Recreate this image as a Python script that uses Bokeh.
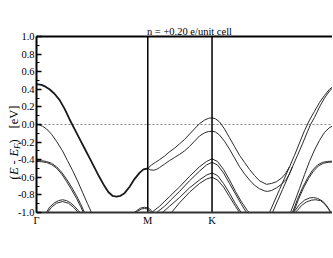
from bokeh.plotting import figure
from bokeh.models import FixedTicker, Label
from bokeh.embed import file_html
from bokeh.resources import INLINE

# ---- high-symmetry path (path length units) ----
sym_k = [0.0, 1.732, 2.732, 4.732]
sym_labels = ["Γ", "M", "K", "Γ"]

y_ticks = [-1.0, -0.8, -0.6, -0.4, -0.2, 0.0, 0.2, 0.4, 0.6, 0.8, 1.0]
y_tick_labels = ["-1.0", "-0.8", "-0.6", "-0.4", "-0.2", "0.0", "0.2", "0.4", "0.6", "0.8", "1.0"]
y_minor = [-0.9, -0.7, -0.5, -0.3, -0.1, 0.1, 0.3, 0.5, 0.7, 0.9]
fermi_level = 0.0

title_text = "n = +0.20 e/unit cell"

# ---- bands ----
bandA_GM_k = [0, 0.078, 0.140, 0.202, 0.280, 0.358, 0.436, 0.514, 0.591, 0.669, 0.747, 0.825, 0.903,
              0.981, 1.058, 1.121, 1.183, 1.245, 1.307, 1.370, 1.447, 1.525, 1.603, 1.665, 1.732]
bandA_GM_e = [0.46, 0.45, 0.43, 0.40, 0.35, 0.28, 0.18, 0.06, -0.05, -0.16, -0.27, -0.38, -0.49,
              -0.60, -0.70, -0.77, -0.81, -0.82, -0.81, -0.78, -0.71, -0.62, -0.55, -0.51, -0.50]

bandA_up_k = [1.732, 1.790, 1.852, 1.914, 1.992, 2.070, 2.148, 2.226, 2.304, 2.381, 2.459, 2.537, 2.615,
              2.677, 2.732, 2.786, 2.848, 2.926, 3.004, 3.082, 3.160, 3.237, 3.315, 3.393, 3.471, 3.580,
              3.658, 3.735, 3.813, 3.875, 3.938, 4.016, 4.093, 4.171, 4.249, 4.327, 4.405, 4.482, 4.560,
              4.638, 4.732]
bandA_up_e = [-0.50, -0.46, -0.43, -0.40, -0.36, -0.31, -0.27, -0.22, -0.17, -0.11, -0.05, 0.01, 0.05,
              0.07, 0.076, 0.065, 0.03, -0.05, -0.15, -0.25, -0.35, -0.43, -0.51, -0.58, -0.64, -0.68,
              -0.67, -0.65, -0.61, -0.56, -0.48, -0.35, -0.21, -0.07, 0.05, 0.15, 0.25, 0.33, 0.40,
              0.445, 0.46]

bandA_lo_k = [1.732, 1.774, 1.821, 1.868, 1.914, 1.992, 2.070, 2.148, 2.226, 2.304, 2.381, 2.459, 2.537,
              2.615, 2.677, 2.732, 2.786, 2.848, 2.926, 3.004, 3.082, 3.160, 3.237, 3.315, 3.393, 3.471,
              3.549, 3.595, 3.658, 3.735, 3.813, 3.891, 3.938, 3.984, 4.062, 4.140, 4.218, 4.265, 4.327,
              4.405, 4.482, 4.560, 4.638, 4.732]
bandA_lo_e = [-0.50, -0.515, -0.52, -0.51, -0.49, -0.45, -0.41, -0.375, -0.34, -0.30, -0.25, -0.19, -0.13,
              -0.095, -0.08, -0.076, -0.085, -0.12, -0.19, -0.28, -0.38, -0.48, -0.56, -0.63, -0.69, -0.73,
              -0.755, -0.76, -0.75, -0.72, -0.68, -0.62, -0.56, -0.48, -0.35, -0.22, -0.08, 0.0, 0.08,
              0.20, 0.30, 0.38, 0.435, 0.46]

steep1_k = [3.626, 3.704, 3.782, 3.860, 3.938]
steep1_e = [-1.0, -0.87, -0.74, -0.61, -0.48]
steep2_k = [3.673, 3.751, 3.829, 3.907, 3.984]
steep2_e = [-1.0, -0.87, -0.74, -0.61, -0.48]

bandB_l_k = [0, 0.047, 0.093, 0.156, 0.233, 0.311, 0.405, 0.482, 0.560, 0.638, 0.716, 0.794, 0.856]
bandB_l_e = [0.0, -0.005, -0.02, -0.05, -0.11, -0.19, -0.30, -0.41, -0.52, -0.64, -0.77, -0.90, -1.0]

bandC1_l_k = [0, 0.078, 0.156, 0.233, 0.311, 0.389, 0.467, 0.545, 0.623, 0.685, 0.747]
bandC1_l_e = [-0.41, -0.412, -0.42, -0.44, -0.48, -0.54, -0.62, -0.71, -0.81, -0.90, -1.0]
bandC2_l_k = [0, 0.078, 0.156, 0.233, 0.311, 0.389, 0.467, 0.545, 0.623, 0.685, 0.732]
bandC2_l_e = [-0.42, -0.423, -0.432, -0.455, -0.495, -0.56, -0.645, -0.74, -0.84, -0.93, -1.0]

domeL1_k = [0.156, 0.202, 0.280, 0.342, 0.405, 0.467, 0.529, 0.591, 0.654, 0.680]
domeL1_e = [-1.0, -0.94, -0.89, -0.865, -0.855, -0.865, -0.89, -0.93, -0.98, -1.0]
domeL2_k = [0.171, 0.233, 0.311, 0.405, 0.498, 0.576, 0.638, 0.660]
domeL2_e = [-1.0, -0.94, -0.895, -0.875, -0.895, -0.94, -0.99, -1.0]

domeM1_k = [1.520, 1.556, 1.619, 1.681, 1.743, 1.790, 1.812]
domeM1_e = [-1.0, -0.98, -0.95, -0.94, -0.95, -0.98, -1.0]
domeM2_k = [1.535, 1.572, 1.634, 1.681, 1.728, 1.774, 1.797]
domeM2_e = [-1.0, -0.985, -0.96, -0.955, -0.96, -0.99, -1.0]

L1_k = [1.790, 1.914, 2.070, 2.226, 2.381, 2.537, 2.646, 2.732, 2.817, 2.911, 3.004, 3.097, 3.191, 3.284, 3.310]
L1_e = [-1.0, -0.93, -0.82, -0.71, -0.59, -0.48, -0.42, -0.39, -0.42, -0.51, -0.63, -0.76, -0.88, -0.98, -1.0]
L2_k = [1.868, 1.992, 2.101, 2.226, 2.381, 2.537, 2.646, 2.732, 2.817, 2.911, 3.004, 3.097, 3.191, 3.268]
L2_e = [-1.0, -0.93, -0.85, -0.76, -0.64, -0.53, -0.46, -0.43, -0.46, -0.55, -0.67, -0.79, -0.91, -1.0]
L3_k = [1.961, 2.070, 2.226, 2.381, 2.537, 2.646, 2.732, 2.817, 2.911, 3.004, 3.097, 3.185]
L3_e = [-1.0, -0.93, -0.83, -0.72, -0.63, -0.575, -0.55, -0.58, -0.67, -0.78, -0.90, -1.0]
L4_k = [2.101, 2.226, 2.381, 2.537, 2.646, 2.732, 2.817, 2.911, 3.004, 3.097, 3.160]
L4_e = [-1.0, -0.89, -0.77, -0.67, -0.62, -0.60, -0.63, -0.71, -0.82, -0.93, -1.0]

bandB_r_k = [3.953, 4.016, 4.093, 4.171, 4.249, 4.327, 4.405, 4.482, 4.560, 4.638, 4.732]
bandB_r_e = [-1.0, -0.88, -0.73, -0.57, -0.42, -0.29, -0.18, -0.09, -0.035, -0.008, 0.0]

bandC1_r_k = [3.984, 4.062, 4.140, 4.218, 4.296, 4.374, 4.452, 4.529, 4.732]
bandC1_r_e = [-1.0, -0.85, -0.72, -0.61, -0.52, -0.46, -0.43, -0.42, -0.41]
bandC2_r_k = [4.000, 4.078, 4.156, 4.233, 4.311, 4.389, 4.467, 4.545, 4.732]
bandC2_r_e = [-1.0, -0.85, -0.72, -0.615, -0.53, -0.47, -0.44, -0.43, -0.42]

domeR1_k = [3.994, 4.031, 4.093, 4.171, 4.249, 4.311, 4.374, 4.452, 4.514, 4.576, 4.597]
domeR1_e = [-1.0, -0.97, -0.91, -0.86, -0.835, -0.83, -0.84, -0.87, -0.92, -0.99, -1.0]
domeR2_k = [4.026, 4.062, 4.125, 4.202, 4.280, 4.343, 4.420, 4.482, 4.545, 4.576]
domeR2_e = [-1.0, -0.975, -0.92, -0.88, -0.86, -0.855, -0.865, -0.90, -0.96, -1.0]

thin_bands = [
    (bandA_up_k, bandA_up_e), (bandA_lo_k, bandA_lo_e), (steep1_k, steep1_e), (steep2_k, steep2_e),
    (bandB_l_k, bandB_l_e), (bandC1_l_k, bandC1_l_e), (bandC2_l_k, bandC2_l_e),
    (domeL1_k, domeL1_e), (domeL2_k, domeL2_e), (domeM1_k, domeM1_e), (domeM2_k, domeM2_e),
    (L1_k, L1_e), (L2_k, L2_e), (L3_k, L3_e), (L4_k, L4_e),
    (bandB_r_k, bandB_r_e), (bandC1_r_k, bandC1_r_e), (bandC2_r_k, bandC2_r_e),
    (domeR1_k, domeR1_e), (domeR2_k, domeR2_e),
]

FONT = "Liberation Serif"

# ---- layout: the frame covers the whole canvas, so that the title, tick labels and the
# rotated y label all lie inside it; axes are pinned at Γ and at E = -1.
PX_PER_K = 64.25      # horizontal scale
PX_PER_EV = 88.0      # vertical scale
CANVAS_LEFT = 1       # screenshot x of the canvas left edge
CANVAS_TOP = 1        # screenshot y of the canvas top
AXIS_X = 37           # x of the Γ axis
ZERO_Y = 125          # y of E = 0
CANVAS_BOTTOM = 243
VIEW_RIGHT = 333

x_start = -(AXIS_X - CANVAS_LEFT) / PX_PER_K
x_end = (VIEW_RIGHT - AXIS_X) / PX_PER_K
y_top = (ZERO_Y - CANVAS_TOP) / PX_PER_EV
y_bottom = (ZERO_Y - CANVAS_BOTTOM) / PX_PER_EV


def px_k(x):
    return (x - AXIS_X) / PX_PER_K


def py_e(y):
    return (ZERO_Y - y) / PX_PER_EV


p = figure(width=VIEW_RIGHT - CANVAS_LEFT, height=CANVAS_BOTTOM - CANVAS_TOP,
           x_range=(x_start, x_end), y_range=(y_bottom, y_top),
           output_backend="svg", toolbar_location=None,
           min_border_left=0, min_border_right=0, min_border_top=0, min_border_bottom=0)
p.outline_line_color = None
p.xgrid.visible = False
p.ygrid.visible = False
p.background_fill_color = "white"
p.border_fill_color = "white"

# y axis, pinned at Γ
p.yaxis.fixed_location = sym_k[0]
p.yaxis.bounds = (y_ticks[0], y_ticks[-1])
p.yaxis.ticker = FixedTicker(ticks=y_ticks, minor_ticks=y_minor)
p.yaxis.major_label_overrides = dict(zip(y_ticks, y_tick_labels))
p.yaxis.axis_line_width = 2
p.yaxis.axis_line_color = "black"
p.yaxis.major_tick_in = 5
p.yaxis.major_tick_out = 0
p.yaxis.minor_tick_in = 3
p.yaxis.minor_tick_out = 0
p.yaxis.major_tick_line_width = 1.5
p.yaxis.minor_tick_line_width = 1
p.yaxis.major_label_text_font = FONT
p.yaxis.major_label_text_font_size = "10.5px"
p.yaxis.major_label_text_color = "black"
p.yaxis.major_label_standoff = 2

# x axis, pinned at E = -1
p.xaxis.fixed_location = y_ticks[0]
p.xaxis.bounds = (sym_k[0], sym_k[-1])
p.xaxis.ticker = FixedTicker(ticks=sym_k)
p.xaxis.major_label_overrides = dict(zip(sym_k, sym_labels))
p.xaxis.axis_line_width = 2
p.xaxis.axis_line_color = "#333333"
p.xaxis.major_tick_in = 0
p.xaxis.major_tick_out = 0
p.xaxis.minor_tick_line_color = None
p.xaxis.major_label_text_font = FONT
p.xaxis.major_label_text_font_size = "10.5px"
p.xaxis.major_label_text_color = "black"
p.xaxis.major_label_standoff = 2

# Fermi level (dotted), from Γ to Γ
p.line([sym_k[0], sym_k[-1]], [fermi_level, fermi_level], line_color="#888888", line_width=1, line_dash="2 2")

# bands
p.line(bandA_GM_k, bandA_GM_e, line_color="#1a1a1a", line_width=1.8)
for kk, ee in thin_bands:
    p.line(kk, ee, line_color="#2a2a2a", line_width=1.0)

# high-symmetry vertical lines and top border
p.segment(x0=sym_k[1:3], y0=[y_ticks[0]] * 2, x1=sym_k[1:3], y1=[y_ticks[-1]] * 2,
          line_color="black", line_width=1.5)
p.line([sym_k[0], sym_k[-1]], [y_ticks[-1], y_ticks[-1]], line_color="black", line_width=2)

# title
p.add_layout(Label(x=px_k(190), y=py_e(31.5), text=title_text, text_align="center",
                   text_baseline="alphabetic", text_font=FONT, text_font_size="10.5px",
                   text_color="black"))

# y-axis label pieces: (E - E_F)  [eV], rotated (y where each piece starts, x of its baseline)
pieces = [
    ("(", 180.0, 14.5, "normal", "12.5px"),
    ("E", 175.6, 14.5, "italic", "12.5px"),
    ("-", 165.0, 14.5, "normal", "12.5px"),
    ("E", 157.0, 14.5, "italic", "12.5px"),
    ("F", 149.5, 17.5, "italic", "9px"),
    (")", 144.0, 14.5, "normal", "12.5px"),
    ("[eV]", 129.0, 14.5, "normal", "12.5px"),
]
for txt, ypage, xpage, style, size in pieces:
    p.add_layout(Label(x=px_k(xpage), y=py_e(ypage), text=txt, angle=90, angle_units="deg",
                       text_align="left", text_baseline="alphabetic", text_font=FONT,
                       text_font_style=style, text_font_size=size, text_color="black"))

open("out.html", "w").write(file_html(p, INLINE))
